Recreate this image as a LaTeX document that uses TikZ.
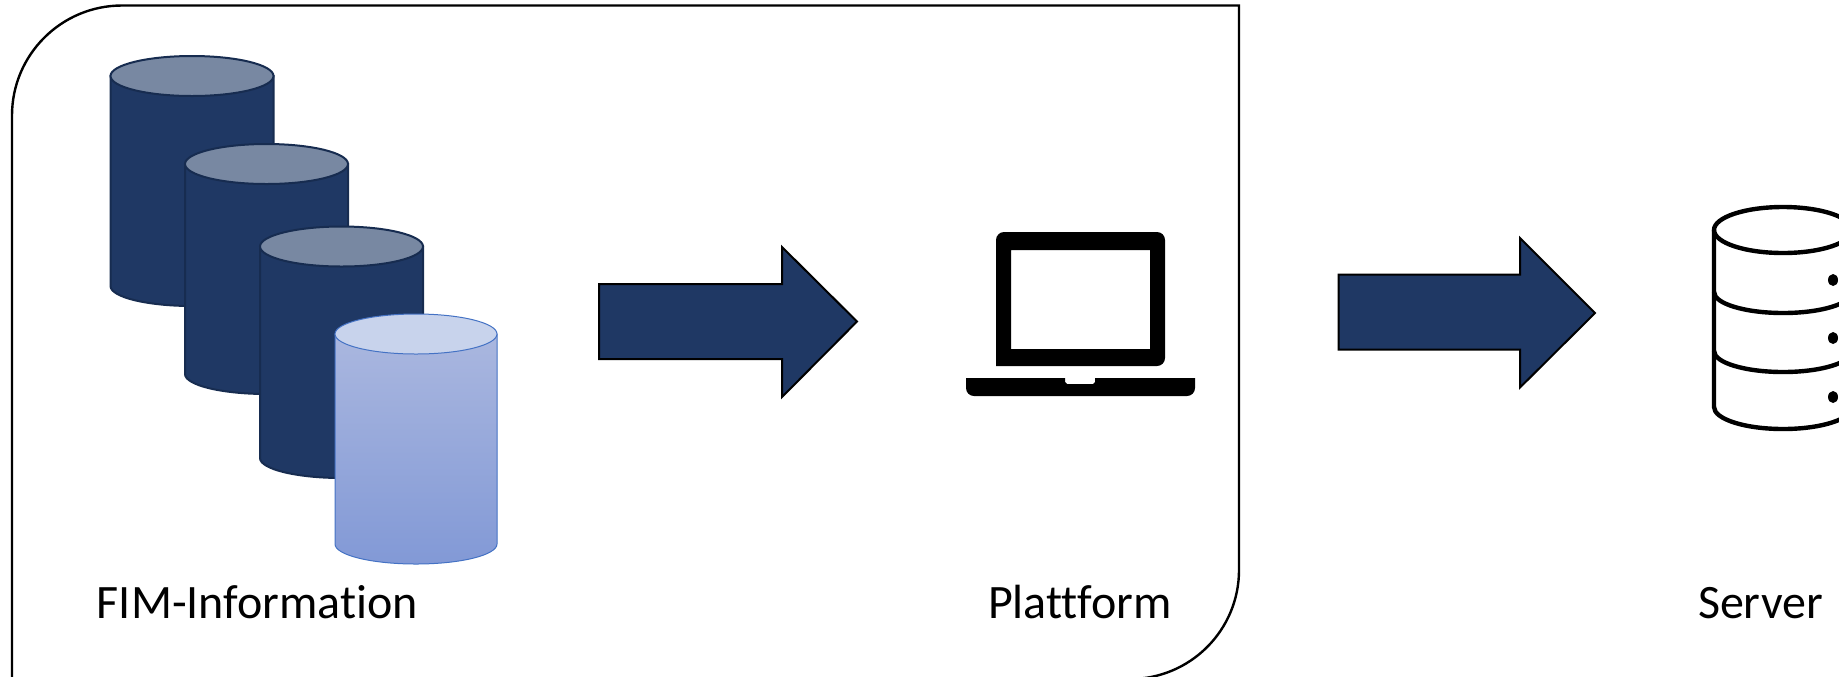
\documentclass[tikz,border=0pt]{standalone}
\usepackage{fontspec}
\setmainfont[Ligatures=NoCommon]{Carlito}
\definecolor{fimdark}{HTML}{1F3864}
\definecolor{fimedge}{HTML}{172C50}
\definecolor{fimtop}{HTML}{7888A2}
\definecolor{fimlight}{HTML}{C8D3EC}
\definecolor{fimblue}{HTML}{4472C4}
\definecolor{fimupper}{HTML}{AAB7DF}
\definecolor{fimlower}{HTML}{8299D6}
\tikzset{
  darkcyl/.style={fill=fimdark,draw=fimedge,line width=1pt},
  darktop/.style={fill=fimtop,draw=fimedge,line width=1pt},
  flowarrow/.style={fill=fimdark,draw=black,line width=1pt,line join=miter},
  serverline/.style={line width=2.2pt},
  caption/.style={anchor=base,font=\fontsize{24}{28}\selectfont,inner sep=0pt}
}
\begin{document}
\begin{tikzpicture}[x=0.5pt,y=0.5pt]
    \clip (0,0) rectangle (1839,-676);
    % frame
    \draw[line width=1.2pt] (12,-679) -- (12,-115.5) arc[start angle=180,end angle=90,radius=110] -- (1239,-5.5) -- (1239,-570) arc[start angle=0,end angle=-90,radius=109] -- cycle;

    % cylinders
    \filldraw[darkcyl] (110.5,-76) -- (110.5,-286) arc[start angle=180,end angle=360,x radius=81.5,y radius=20] -- (273.5,-76) -- cycle;
    \filldraw[darktop] (192,-76) ellipse (81.5 and 20);
    \filldraw[darkcyl] (185,-164) -- (185,-374) arc[start angle=180,end angle=360,x radius=81.5,y radius=20] -- (348,-164) -- cycle;
    \filldraw[darktop] (266.5,-164) ellipse (81.5 and 20);
    \filldraw[darkcyl] (260,-246.5) -- (260,-458) arc[start angle=180,end angle=360,x radius=81.5,y radius=20] -- (423,-246.5) -- cycle;
    \filldraw[darktop] (341.5,-246.5) ellipse (81.5 and 20);
    \path[draw=fimblue,line width=0.5pt,top color=fimupper,bottom color=fimlower] (335,-334) -- (335,-544) arc[start angle=180,end angle=360,x radius=81,y radius=20] -- (497,-334) -- cycle;
    \filldraw[fill=fimlight,draw=fimblue,line width=0.5pt] (416,-334) ellipse (81 and 20);

    % arrows
    \draw[flowarrow] (599,-284) -- (782,-284) -- (782,-247) -- (857,-321.5) -- (782,-397) -- (782,-359) -- (599,-359) -- cycle;
    \draw[flowarrow] (1338.5,-274.5) -- (1520,-274.5) -- (1520,-238) -- (1595,-313) -- (1520,-387.5) -- (1520,-349.5) -- (1338.5,-349.5) -- cycle;

    % laptop
    \fill[even odd rule] (996,-366) {[rounded corners=4pt] -- (996,-232) -- (1165,-232) -- (1165,-366)} -- cycle (1011,-250) rectangle (1150,-349);
    \fill (966,-378) -- (1065,-378) -- (1065,-382) -- (1067,-384) -- (1093,-384) -- (1095,-382) -- (1095,-378) -- (1195,-378) {[rounded corners=4pt] -- (1195,-396) -- (966,-396)} -- cycle;

    % server
    \draw[serverline] (1783,-230) ellipse (69 and 23);
    \draw[serverline,line join=round] (1714,-230) -- (1714,-407) arc[start angle=180,end angle=360,x radius=69,y radius=22] -- (1852,-230);
    \draw[serverline] (1714,-292) arc[start angle=180,end angle=360,x radius=69,y radius=21];
    \draw[serverline] (1714,-351) arc[start angle=180,end angle=360,x radius=69,y radius=21];
    \foreach \doty in {280,338,397}
        \fill (1833,-\doty) ellipse (5 and 6);

    % labels
    \node[caption] (fim) at (257.5,-618.5) {FIM-Information};
    \node[caption] (plattform) at (1080,-618.5) {Plattform};
    \node[caption] (server) at (1760.5,-618.5) {Server};
\end{tikzpicture}
\end{document}
